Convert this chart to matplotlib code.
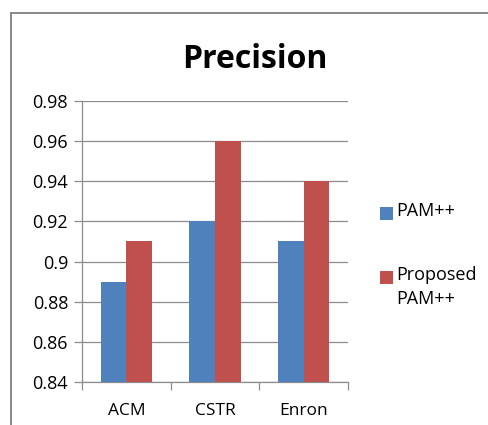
import matplotlib
matplotlib.use("Agg")
import matplotlib.pyplot as plt
from matplotlib.patches import Rectangle
import numpy as np

categories = ["ACM", "CSTR", "Enron"]
pam = [0.89, 0.92, 0.91]
proposed = [0.91, 0.96, 0.94]
series_names = ["PAM++", "Proposed\nPAM++"]
yticks = [0.84, 0.86, 0.88, 0.90, 0.92, 0.94, 0.96, 0.98]
ytick_labels = ["0.84", "0.86", "0.88", "0.9", "0.92", "0.94", "0.96", "0.98"]

blue = "#4F81BD"
red = "#C0504D"
grid = "#8C8C8C"

plt.rcParams["font.family"] = ["Open Sans", "DejaVu Sans"]

W, H = 489, 425
fig = plt.figure(figsize=(W / 100, H / 100), dpi=100)

def fx(px):
    return px / W

def fy(py):
    return (H - py) / H

# chart frame (runs past the right and bottom edges)
fig.patches.append(Rectangle((fx(11), fy(440)), 1.2, fy(13) - fy(440),
                             transform=fig.transFigure, fill=False,
                             edgecolor="#7F7F7F", linewidth=1.3))

ax = fig.add_axes([fx(82), fy(382), fx(348) - fx(82), fy(101) - fy(382)])

x = np.arange(len(categories))
bw = 0.29
ax.bar(x - bw / 2, [v - 0.84 for v in pam], bw, bottom=0.84, color=blue, zorder=3)
ax.bar(x + bw / 2, [v - 0.84 for v in proposed], bw, bottom=0.84, color=red, zorder=3)

ax.set_xlim(-0.5, len(categories) - 0.5)
ax.set_ylim(0.84, 0.98)
ax.set_yticks(yticks)
ax.set_yticklabels(ytick_labels, fontsize=13)
ax.yaxis.grid(True, color=grid, linewidth=0.9, zorder=0)
ax.tick_params(axis="y", length=6, color=grid, width=0.9, pad=4)

ax.set_xticks(x)
ax.set_xticklabels(categories, fontsize=12.5)
ax.set_xticks(np.arange(-0.5, len(categories)), minor=True)
ax.tick_params(axis="x", which="major", length=0, pad=15)
ax.tick_params(axis="x", which="minor", length=6, color=grid, width=0.9)

for s in ["top", "right"]:
    ax.spines[s].set_visible(False)
for s in ["left", "bottom"]:
    ax.spines[s].set_color(grid)
    ax.spines[s].set_linewidth(0.9)

fig.text(fx(255), fy(60), "Precision", ha="center", va="center",
         fontsize=23, fontweight="bold")

# legend
sq = 13
for (top_px, color, label) in [(207, blue, series_names[0]), (271, red, series_names[1])]:
    fig.patches.append(Rectangle((fx(380), fy(top_px + sq)), fx(380 + sq) - fx(380),
                                 fy(top_px) - fy(top_px + sq),
                                 transform=fig.transFigure, facecolor=color,
                                 edgecolor="none"))
    fig.text(fx(396), fy(top_px - 5), label, ha="left", va="top",
             fontsize=13, linespacing=1.45)

fig.savefig("out.png", dpi=100)
